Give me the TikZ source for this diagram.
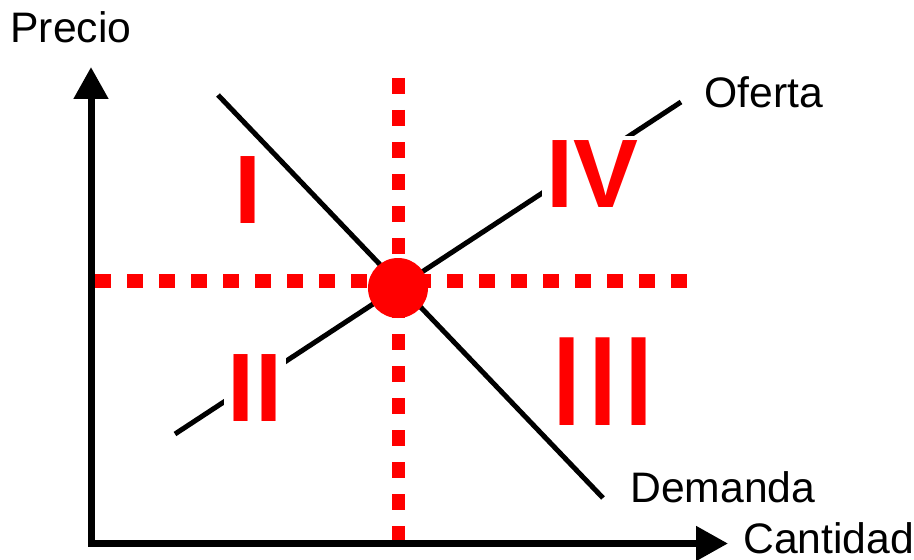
\documentclass[tikz,border=0pt]{standalone}
\usepackage{fontspec}
\setmainfont{Liberation Sans}
\usetikzlibrary{arrows.meta}

\begin{document}
\begin{tikzpicture}[x=0.75pt, y=-0.75pt,
  lbl/.style={inner sep=0pt, font=\fontsize{32}{38}\selectfont},
  zone/.style={text=red, fill=white, inner sep=3pt, font=\fontsize{73}{80}\selectfont\bfseries},
  guide/.style={red, line width=10pt, dash pattern=on 12pt off 12pt},
  curve/.style={line width=3.75pt}]
  \useasboundingbox (0,0) rectangle (914,560);
  % points
  \coordinate (O) at (91,543.5);
  \coordinate (ytop) at (91,67);
  \coordinate (xend) at (728,543.5);
  \coordinate (h1) at (95,281);
  \coordinate (h2) at (688,281);
  \coordinate (v1) at (398.5,78);
  \coordinate (v2) at (398.5,543);
  \coordinate (d1) at (218,95);
  \coordinate (d2) at (603,498);
  \coordinate (s1) at (175,434);
  \coordinate (s2) at (681,102);
  % dotted guides
  \draw[guide] (h1) -- (h2);
  \draw[guide] (v1) -- (v2);
  % axes
  \draw[line width=5.25pt, {Triangle[length=24pt,width=25pt]}-{Triangle[length=24pt,width=25pt]}]
    (ytop) -- (O) -- (xend);
  \node[lbl, anchor=base] (precio) at (71,43) {Precio};
  \node[lbl, anchor=base west] (cantidad) at (743,553) {Cantidad};
  % demanda + oferta
  \draw[curve] (d1) -- (d2);
  \draw[curve] (s1) -- (s2);
  \node[lbl, anchor=base west] (oferta) at (704,108) {Oferta};
  \node[lbl, anchor=base west] (demanda) at (630,502) {Demanda};
  % zones
  \node[zone, anchor=base] (qI) at (248,223) {I};
  \node[zone, anchor=base] (qIV) at (592,207) {IV};
  \node[zone, anchor=base] (qII) at (255,421) {II};
  \node[zone, anchor=base] (qIII) at (603,425) {\scalebox{1}[1.31]{I\hspace{7pt}I\hspace{7pt}I}};
  % equilibrium
  \node[circle, fill=red, minimum size=45pt, inner sep=0pt] (eq) at (398,288) {};
\end{tikzpicture}
\end{document}
